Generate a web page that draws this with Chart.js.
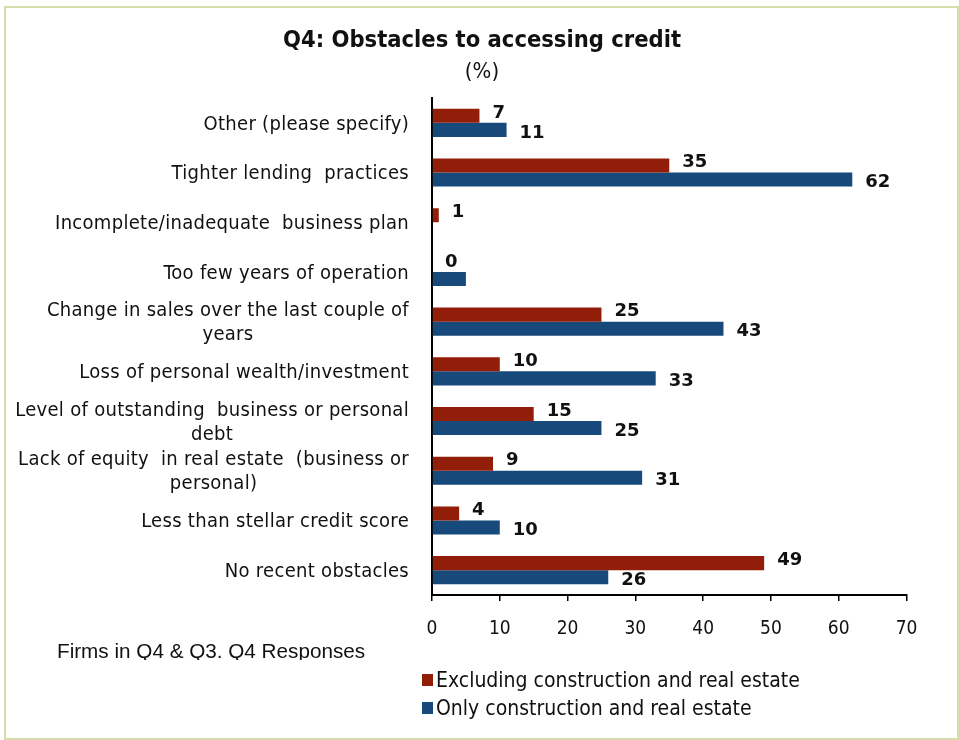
<!DOCTYPE html>
<html>
<head>
<meta charset="utf-8">
<title>Q4: Obstacles to accessing credit</title>
<script src="https://cdn.jsdelivr.net/npm/chart.js@4.4.1/dist/chart.umd.min.js"></script>
<style>
  html, body { margin: 0; padding: 0; background: #fff; }
  #wrap { position: relative; width: 959px; height: 740px; overflow: hidden; }
  #frame {
    position: absolute; left: 4px; top: 6px; width: 955px; height: 734px;
    border: 2px solid #d6dcab; box-sizing: border-box;
  }
  #chart { position: absolute; left: 0; top: 0; }
  .note {
    position: absolute; left: 57px; top: 639px; height: 21px; line-height: 23px; overflow: hidden;
    font-family: "Liberation Sans", Arial, sans-serif; font-size: 20.7px; color: #111; white-space: nowrap;
  }
  .legend {
    position: absolute; left: 422px; top: 666px;
    font: 21px "DejaVu Sans Condensed", sans-serif; color: #111;
  }
  .legend div { display: flex; align-items: center; height: 28px; white-space: nowrap; }
  .legend span { display: inline-block; width: 11px; height: 12px; margin-right: 3px; }
</style>
</head>
<body>
<div id="wrap">
  <div id="frame"></div>
  <canvas id="chart" width="959" height="740"></canvas>
  <div class="note">Firms in Q4 &amp; Q3. Q4 Responses</div>
  <div class="legend">
    <div><span style="background:#921d08"></span>Excluding construction  and real estate</div>
    <div><span style="background:#17497a"></span>Only construction  and real estate</div>
  </div>
</div>
<script>
const categories = [
  "Other (please specify)",
  "Tighter lending  practices",
  "Incomplete/inadequate  business plan",
  "Too few years of operation",
  ["Change in sales over the last couple of", "years"],
  "Loss of personal wealth/investment",
  ["Level of outstanding  business or personal", "debt"],
  ["Lack of equity  in real estate  (business or", "personal)"],
  "Less than stellar credit score",
  "No recent obstacles"
];
const excludingConstruction = [7, 35, 1, 0, 25, 10, 15, 9, 4, 49];
const onlyConstruction = [11, 62, 0, 5, 43, 33, 25, 31, 10, 26];
// these two blue bars carry no value label
const unlabelledOnly = [2, 3];
const xMin = 0;
const xMax = 70;
const xStep = 10;

const RED = "#921d08";
const BLUE = "#17497a";
const CONDENSED = '"DejaVu Sans Condensed", "DejaVu Sans", sans-serif';

// title and unit line, centred a little right of the canvas middle
const headings = {
  id: "headings",
  afterDraw(chart) {
    const ctx = chart.ctx;
    ctx.save();
    ctx.fillStyle = "#111";
    ctx.textAlign = "center";
    ctx.textBaseline = "middle";
    ctx.font = "bold 23.5px " + CONDENSED;
    ctx.fillText("Q4: Obstacles to accessing credit", 482, 41);
    ctx.font = "22px " + CONDENSED;
    ctx.fillText("(%)", 482, 72);
    ctx.restore();
  }
};

// value labels to the right of each bar
const barValueLabels = {
  id: "barValueLabels",
  afterDatasetsDraw(chart) {
    const ctx = chart.ctx;
    ctx.save();
    ctx.font = 'bold 18px "DejaVu Sans", sans-serif';
    ctx.fillStyle = "#111";
    ctx.textAlign = "left";
    ctx.textBaseline = "middle";
    chart.data.datasets.forEach((ds, di) => {
      chart.getDatasetMeta(di).data.forEach((bar, i) => {
        if (di === 1 && unlabelledOnly.includes(i)) return;
        const shift = di === 0 ? -3 : 3;
        ctx.fillText(String(ds.data[i]), bar.x + 13, bar.y + shift);
      });
    });
    ctx.restore();
  }
};

// category names, wrapped lines centred under the first one
const categoryLabels = {
  id: "categoryLabels",
  afterDraw(chart) {
    const ctx = chart.ctx;
    const yScale = chart.scales.y;
    const right = chart.chartArea.left - 23;
    ctx.save();
    ctx.font = "20px " + CONDENSED;
    ctx.letterSpacing = "0.3px";
    ctx.fillStyle = "#111";
    ctx.textBaseline = "middle";
    ctx.textAlign = "center";
    categories.forEach((label, i) => {
      const cy = yScale.getPixelForValue(i) + 1.5;
      const lines = Array.isArray(label) ? label : [label];
      const block = Math.max(...lines.map(l => ctx.measureText(l).width));
      lines.forEach((line, k) => {
        const ly = cy + (k - (lines.length - 1) / 2) * 24;
        ctx.fillText(line, right - block / 2, ly);
      });
    });
    ctx.restore();
  }
};

const ctx = document.getElementById("chart").getContext("2d");
const chart = new Chart(ctx, {
  type: "bar",
  data: {
    labels: categories,
    datasets: [
      {
        label: "Excluding construction and real estate",
        data: excludingConstruction,
        backgroundColor: RED,
        categoryPercentage: 0.565,
        barPercentage: 1.0
      },
      {
        label: "Only construction and real estate",
        data: onlyConstruction,
        backgroundColor: BLUE,
        categoryPercentage: 0.565,
        barPercentage: 1.0
      }
    ]
  },
  options: {
    indexAxis: "y",
    responsive: false,
    animation: false,
    layout: { padding: { left: 0, right: 52.5, top: 98, bottom: 0 } },
    plugins: {
      legend: { display: false },
      tooltip: { enabled: false },
      title: { display: false }
    },
    scales: {
      x: {
        min: xMin,
        max: xMax,
        ticks: {
          stepSize: xStep,
          color: "#111",
          maxRotation: 0,
          padding: 17,
          font: { family: CONDENSED, size: 19 }
        },
        grid: { drawOnChartArea: false, drawTicks: true, tickLength: 6, color: "#000", lineWidth: 1.5 },
        border: { color: "#000", width: 2 },
        afterFit(scale) { scale.height = 145; }
      },
      y: {
        ticks: { display: false },
        grid: { display: true, drawOnChartArea: false, drawTicks: false },
        border: { color: "#000", width: 2 },
        afterFit(scale) { scale.width = 432; }
      }
    }
  },
  plugins: [barValueLabels, categoryLabels, headings]
});
</script>
</body>
</html>
